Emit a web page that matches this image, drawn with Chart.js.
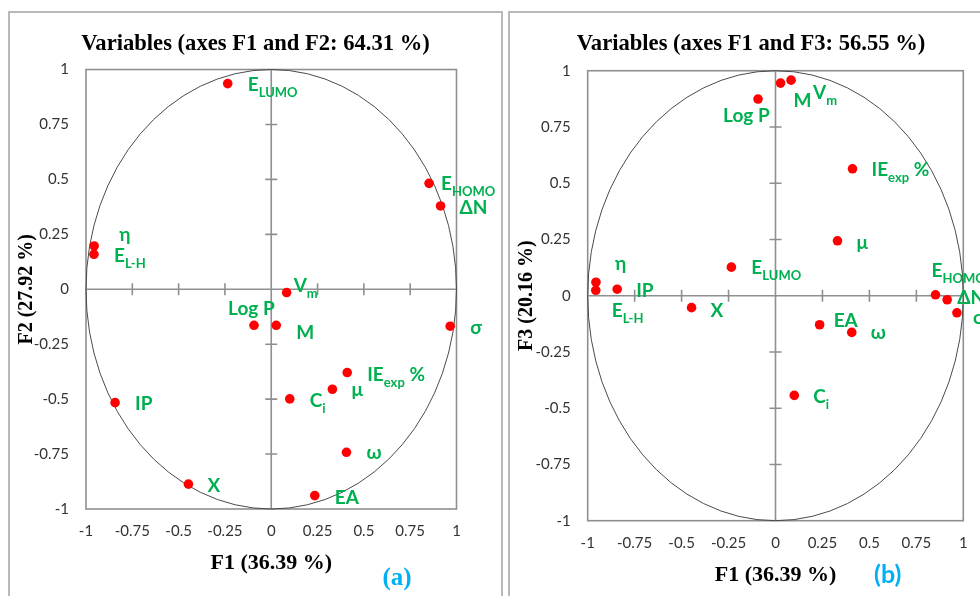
<!DOCTYPE html>
<html>
<head>
<meta charset="utf-8">
<title>PCA correlation circles</title>
<script src="https://cdn.jsdelivr.net/npm/chart.js@4.4.1/dist/chart.umd.min.js"></script>
<style>
  html, body { margin: 0; padding: 0; width: 980px; height: 596px; overflow: hidden; background: #fff; }
  .panel { position: absolute; border: 2px solid #b9b9b9; box-sizing: border-box; }
  canvas { position: absolute; top: 0; }
</style>
</head>
<body>
<div class="panel" style="left:8px; top:11px; width:495px; height:600px;"></div>
<div class="panel" style="left:508px; top:11px; width:500px; height:600px;"></div>
<canvas id="panelA" width="511" height="596" style="left:0px;"></canvas>
<canvas id="panelB" width="502" height="596" style="left:500px;"></canvas>

<script>
// Variables and their loadings on the principal components
const variableNames = ['E_{LUMO}', 'E_{HOMO}', 'ΔN', 'η', 'E_{L-H}', 'V_{m}', 'Log P', 'M', 'σ',
                       'IE_{exp} %', 'μ', 'C_{i}', 'IP', 'ω', 'X', 'EA'];
const f1Loadings = [-0.235, 0.852, 0.914, -0.956, -0.957, 0.083, -0.093, 0.027, 0.966,
                    0.410, 0.330, 0.100, -0.843, 0.406, -0.447, 0.235];
const f2Loadings = [0.936, 0.482, 0.379, 0.197, 0.159, -0.015, -0.164, -0.164, -0.168,
                    -0.379, -0.455, -0.499, -0.516, -0.742, -0.887, -0.939];
const f3Loadings = [0.127, 0.004, -0.018, 0.060, 0.024, 0.958, 0.874, 0.945, -0.076,
                    0.564, 0.244, -0.443, 0.029, -0.163, -0.053, -0.129];

// Axis ticks shared by both circles
const axisTicks = [-1, -0.75, -0.5, -0.25, 0, 0.25, 0.5, 0.75, 1];
const tickLabels = ['-1', '-0.75', '-0.5', '-0.25', '0', '0.25', '0.5', '0.75', '1'];

// Label placement next to each point: [dx to text start, dy to baseline] in px
const labelOffsetsA = [[20, 7], [12, 7], [19, 8], [25, -5], [20, 8], [7, -1], [-26, -10], [20, 14],
                       [20, 8], [20, 8], [19, 7], [20, 8], [20, 7], [20, 7], [19, 8], [20, 8]];
const labelOffsetsB = [[20, 7], [-4, -18], [10, 4], [19, -12], [16, 27], [22, 19], [-35, 23], [13, 24],
                       [16, 11], [19, 7], [19, 8], [19, 8], [19, 8], [19, 7], [19, 9], [14, 2]];

const SERIF = "'Liberation Serif', 'Times New Roman', serif";
const SANS = "Lato, 'Liberation Sans', Arial, sans-serif";
const GREEN = '#00b050';

// Frame, zero axes with crossing tick marks, and the unit correlation circle
const crossAxesPlugin = {
  id: 'crossAxes',
  beforeDatasetsDraw(chart) {
    const { ctx, chartArea: a, scales: { x, y } } = chart;
    const x0 = x.getPixelForValue(0);
    const y0 = y.getPixelForValue(0);
    ctx.save();
    ctx.strokeStyle = '#8f8f8f';
    ctx.lineWidth = 1.6;
    ctx.strokeRect(a.left, a.top, a.right - a.left, a.bottom - a.top);
    ctx.beginPath();
    ctx.moveTo(a.left, y0); ctx.lineTo(a.right, y0);
    ctx.moveTo(x0, a.top); ctx.lineTo(x0, a.bottom);
    axisTicks.forEach(v => {
      if (v === 0 || Math.abs(v) === 1) return;
      const px = x.getPixelForValue(v);
      ctx.moveTo(px, y0 - 6); ctx.lineTo(px, y0 + 6);
      const py = y.getPixelForValue(v);
      ctx.moveTo(x0 - 6, py); ctx.lineTo(x0 + 6, py);
    });
    ctx.stroke();
    ctx.beginPath();
    ctx.strokeStyle = '#4a4a4a';
    ctx.lineWidth = 1;
    ctx.ellipse(x0, y0, x.getPixelForValue(1) - x0, y0 - y.getPixelForValue(1), 0, 0, Math.PI * 2);
    ctx.stroke();
    ctx.restore();
  }
};

// Variable names next to the points, with subscripts
function drawRichLabel(ctx, text, x, baseline) {
  const m = text.match(/^([^_]*)(?:_\{([^}]*)\})?(.*)$/);
  const mainFont = 'bold 19px ' + SANS;
  const subFont = 'bold 13px ' + SANS;
  ctx.font = mainFont;
  ctx.fillText(m[1], x, baseline);
  x += ctx.measureText(m[1]).width;
  if (m[2]) {
    ctx.font = subFont;
    ctx.fillText(m[2], x, baseline + 6);
    x += ctx.measureText(m[2]).width;
  }
  if (m[3]) {
    ctx.font = mainFont;
    ctx.fillText(m[3], x, baseline);
  }
}

const varLabelsPlugin = {
  id: 'varLabels',
  afterDatasetsDraw(chart, args, opts) {
    const { ctx } = chart;
    const meta = chart.getDatasetMeta(0);
    ctx.save();
    ctx.fillStyle = GREEN;
    ctx.textAlign = 'left';
    ctx.textBaseline = 'alphabetic';
    meta.data.forEach((pt, i) => {
      const [dx, dy] = opts.offsets[i];
      drawRichLabel(ctx, variableNames[i], pt.x + dx, pt.y + dy);
    });
    ctx.restore();
  },
  afterDraw(chart, args, opts) {
    if (!opts.tag) return;
    const { ctx } = chart;
    ctx.save();
    ctx.fillStyle = '#00b0f0';
    ctx.font = opts.tag.font;
    ctx.textAlign = 'center';
    ctx.textBaseline = 'middle';
    ctx.fillText(opts.tag.text, opts.tag.x, opts.tag.y);
    ctx.restore();
  }
};

function buildCircle(canvasId, yLoadings, cfg) {
  const points = f1Loadings.map((v, i) => ({ x: v, y: yLoadings[i] }));
  const tickFont = { family: SANS, size: 15 };
  const titleFont = { family: SERIF, size: 22.6, weight: 'bold' };
  const xTitleFont = { family: SERIF, size: 22, weight: 'bold' };
  const yTitleFont = { family: SERIF, size: 20, weight: 'bold' };
  const fixedTicks = scale => { scale.ticks = axisTicks.map(v => ({ value: v })); };
  const tickText = v => tickLabels[axisTicks.indexOf(v)];
  return new Chart(document.getElementById(canvasId), {
    type: 'scatter',
    data: {
      datasets: [{
        data: points,
        xAxisID: 'x',
        yAxisID: 'y',
        pointRadius: 4.8,
        pointHoverRadius: 4.8,
        pointBackgroundColor: '#ff0000',
        pointBorderWidth: 0,
        borderWidth: 0
      }]
    },
    options: {
      responsive: false,
      animation: false,
      events: [],
      layout: { padding: 0 },
      plugins: {
        legend: { display: false },
        tooltip: { enabled: false },
        title: {
          display: true,
          text: cfg.title,
          color: '#000',
          font: titleFont,
          padding: { top: 30.4, bottom: cfg.titleGap }
        },
        varLabels: { offsets: cfg.offsets, tag: cfg.tag }
      },
      scales: {
        x: {
          type: 'linear', position: 'bottom', min: -1, max: 1,
          afterBuildTicks: fixedTicks,
          afterFit: s => { s.height = cfg.xAxisHeight; },
          grid: { display: false, drawTicks: false },
          border: { display: false },
          ticks: { callback: tickText, font: tickFont, color: '#333', padding: cfg.xTickPad, maxRotation: 0, autoSkip: false },
          title: { display: true, text: 'F1 (36.39 %)', color: '#000', font: xTitleFont, padding: { top: 0, bottom: cfg.xTitlePad } }
        },
        y: {
          type: 'linear', position: 'left', min: -1, max: 1,
          afterBuildTicks: fixedTicks,
          afterFit: s => { s.width = cfg.yAxisWidth; },
          grid: { display: false, drawTicks: false },
          border: { display: false },
          ticks: { callback: tickText, font: tickFont, color: '#333', padding: 17, autoSkip: false },
          title: { display: true, text: cfg.yTitle, color: '#000', font: yTitleFont, padding: { top: 15, bottom: 0 } }
        },
        gutter: {
          type: 'linear', position: 'right', display: true,
          afterFit: s => { s.width = cfg.rightGap; },
          grid: { display: false, drawTicks: false },
          border: { display: false },
          ticks: { display: false }
        }
      }
    },
    plugins: [crossAxesPlugin, varLabelsPlugin]
  });
}

buildCircle('panelA', f2Loadings, {
  title: 'Variables (axes F1 and F2: 64.31 %)',
  yTitle: 'F2 (27.92 %)',
  titleGap: 12.0,
  yAxisWidth: 86,
  rightGap: 54.5,
  xAxisHeight: 87,
  xTickPad: 13.5,
  xTitlePad: 19.8,
  offsets: labelOffsetsA,
  tag: { text: '(a)', x: 397, y: 579, font: 'bold 25px ' + SERIF }
});

buildCircle('panelB', f3Loadings, {
  title: 'Variables (axes F1 and F3: 56.55 %)',
  yTitle: 'F3 (20.16 %)',
  titleGap: 13.2,
  yAxisWidth: 87.7,
  rightGap: 38.7,
  xAxisHeight: 75.3,
  xTickPad: 13.3,
  xTitlePad: 7.8,
  offsets: labelOffsetsB,
  tag: { text: '(b)', x: 387.7, y: 575, font: 'bold 25px ' + SANS }
});
</script>
</body>
</html>
